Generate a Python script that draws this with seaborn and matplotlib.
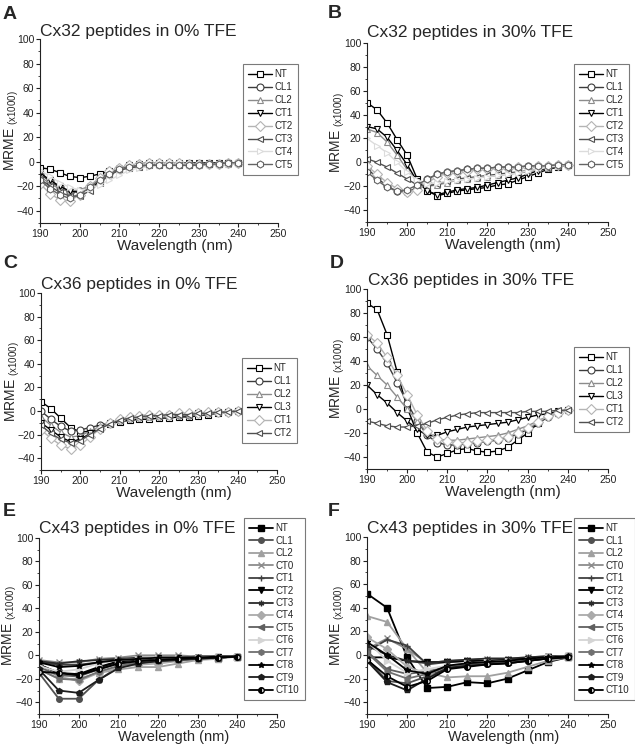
import numpy as np
import matplotlib
matplotlib.use('Agg')
import matplotlib.pyplot as plt
from matplotlib.ticker import MultipleLocator
import seaborn as sns

# wavelengths (nm)
wl_fine = [190 + 2.5 * i for i in range(21)]
wl_coarse = [190 + 5 * i for i in range(11)]

# Cx32, 0% TFE
cx32_0 = {
    'NT':  [-5, -6, -9, -12, -13, -12, -10, -8, -6, -4, -3, -2, -2, -2, -2, -2, -2, -2, -2, -1, -1],
    'CL1': [-10, -16, -21, -25, -24, -20, -14, -9, -5, -3, -2, -1, -1, -1, -2, -2, -2, -2, -2, -1, -1],
    'CL2': [-12, -18, -22, -24, -23, -20, -15, -10, -7, -5, -4, -3, -3, -3, -3, -3, -3, -2, -2, -2, -1],
    'CT1': [-9, -15, -20, -24, -25, -22, -16, -10, -6, -3, -2, -1, -1, -1, -1, -1, -1, -1, -1, -1, -1],
    'CT2': [-18, -26, -31, -32, -27, -20, -13, -8, -5, -3, -2, -1, -1, -1, -1, -2, -2, -2, -2, -1, -1],
    'CT3': [-14, -20, -25, -28, -28, -24, -17, -11, -7, -5, -4, -3, -3, -3, -3, -3, -2, -2, -2, -1, -1],
    'CT4': [-7, -12, -17, -21, -23, -22, -19, -15, -11, -7, -5, -4, -3, -3, -3, -3, -3, -2, -2, -2, -1],
    'CT5': [-15, -22, -27, -30, -27, -21, -15, -10, -6, -4, -3, -3, -3, -3, -3, -3, -3, -2, -2, -1, -1],
}

# Cx32, 30% TFE
cx32_30 = {
    'NT':  [50, 44, 33, 19, 6, -14, -24, -28, -26, -24, -23, -22, -21, -19, -18, -15, -12, -9, -6, -4, -2],
    'CL1': [-5, -13, -20, -24, -25, -21, -14, -10, -8, -7, -6, -5, -5, -4, -4, -4, -3, -3, -3, -2, -2],
    'CL2': [28, 25, 17, 6, -6, -16, -20, -19, -17, -15, -14, -13, -12, -11, -10, -9, -8, -6, -5, -3, -2],
    'CT1': [30, 28, 21, 10, -2, -16, -24, -27, -25, -23, -22, -21, -19, -17, -15, -13, -10, -7, -5, -3, -2],
    'CT2': [-3, -10, -17, -22, -25, -23, -17, -12, -9, -8, -7, -6, -6, -5, -5, -4, -4, -3, -3, -2, -2],
    'CT3': [3, 0, -4, -9, -14, -19, -20, -18, -16, -14, -13, -12, -11, -10, -9, -8, -7, -6, -5, -3, -2],
    'CT4': [20, 14, 8, 0, -8, -15, -18, -17, -16, -15, -14, -13, -12, -11, -10, -9, -7, -6, -4, -3, -2],
    'CT5': [-8, -15, -21, -24, -23, -19, -14, -10, -8, -7, -6, -5, -5, -4, -4, -4, -3, -3, -3, -2, -2],
}

# Cx36, 0% TFE
cx36_0 = {
    'NT':  [8, 2, -6, -14, -18, -17, -14, -11, -9, -8, -7, -7, -6, -6, -5, -5, -4, -3, -2, -1, 0],
    'CL1': [0, -7, -13, -17, -16, -14, -12, -10, -8, -6, -5, -4, -4, -3, -3, -3, -2, -2, -1, -1, 0],
    'CL2': [-5, -12, -18, -22, -21, -17, -13, -10, -8, -6, -5, -5, -4, -4, -3, -3, -2, -2, -1, -1, 0],
    'CL3': [-10, -16, -22, -26, -24, -19, -14, -10, -8, -6, -5, -4, -4, -4, -3, -3, -2, -2, -1, -1, 0],
    'CT1': [-16, -23, -29, -32, -29, -22, -15, -10, -7, -5, -4, -3, -3, -3, -2, -2, -2, -1, -1, -1, 0],
    'CT2': [-12, -19, -24, -27, -25, -20, -15, -11, -8, -6, -5, -4, -4, -3, -3, -3, -2, -2, -1, -1, 0],
}

# Cx36, 30% TFE
cx36_30 = {
    'NT':  [88, 83, 62, 31, 1, -20, -36, -40, -37, -34, -33, -35, -36, -35, -32, -26, -20, -12, -6, -3, -1],
    'CL1': [60, 50, 38, 22, 5, -10, -22, -28, -30, -30, -29, -28, -27, -26, -24, -21, -17, -12, -7, -3, -1],
    'CL2': [36, 28, 20, 10, 0, -10, -20, -25, -26, -26, -25, -24, -23, -22, -20, -17, -14, -10, -6, -3, -1],
    'CL3': [20, 12, 5, -3, -10, -17, -22, -22, -19, -17, -15, -14, -13, -12, -11, -9, -7, -5, -4, -2, -1],
    'CT1': [62, 55, 43, 28, 12, -5, -18, -25, -27, -28, -28, -27, -26, -25, -23, -20, -16, -11, -6, -3, -1],
    'CT2': [-10, -12, -14, -15, -15, -14, -12, -9, -7, -5, -4, -3, -3, -3, -3, -3, -2, -2, -2, -1, -1],
}

# Cx43, 0% TFE
cx43_0 = {
    'NT':   [-8, -15, -17, -11, -6, -4, -3, -3, -2, -2, -1],
    'CL1':  [-15, -37, -37, -21, -10, -6, -5, -4, -3, -2, -1],
    'CL2':  [-12, -20, -20, -15, -12, -10, -10, -7, -4, -3, -1],
    'CT0':  [-4, -6, -6, -3, -2, 0, 0, 0, -1, -1, -1],
    'CT1':  [-6, -8, -8, -6, -4, -3, -2, -2, -1, -1, -1],
    'CT2':  [-8, -15, -16, -10, -5, -3, -2, -2, -2, -1, -1],
    'CT3':  [-5, -7, -5, -4, -3, -2, -2, -2, -1, -1, -1],
    'CT4':  [-10, -18, -22, -15, -10, -8, -7, -5, -3, -2, -1],
    'CT5':  [-10, -17, -18, -12, -7, -5, -4, -3, -2, -2, -1],
    'CT6':  [-9, -14, -12, -7, -4, -3, -2, -2, -2, -1, -1],
    'CT7':  [-12, -20, -21, -14, -9, -6, -5, -4, -3, -2, -1],
    'CT8':  [-6, -10, -9, -6, -4, -3, -2, -2, -2, -1, -1],
    'CT9':  [-12, -30, -32, -21, -11, -7, -5, -4, -3, -2, -1],
    'CT10': [-14, -15, -17, -12, -7, -5, -4, -3, -2, -2, -1],
}

# Cx43, 30% TFE
cx43_30 = {
    'NT':   [52, 40, -2, -28, -27, -23, -24, -20, -13, -6, -2],
    'CL1':  [-3, -22, -24, -18, -11, -9, -8, -7, -5, -3, -2],
    'CL2':  [33, 28, 5, -15, -19, -18, -18, -15, -10, -5, -2],
    'CT0':  [5, 14, 5, -7, -5, -4, -3, -3, -2, -1, -1],
    'CT1':  [3, 13, 8, -8, -6, -5, -5, -4, -3, -2, -1],
    'CT2':  [-2, -2, -5, -6, -6, -5, -5, -4, -3, -2, -1],
    'CT3':  [8, 0, -5, -7, -5, -4, -3, -3, -2, -1, -1],
    'CT4':  [15, 5, -10, -16, -10, -8, -7, -6, -4, -2, -1],
    'CT5':  [3, -12, -16, -14, -10, -8, -7, -6, -4, -3, -1],
    'CT6':  [12, -5, -15, -12, -9, -7, -6, -5, -4, -2, -1],
    'CT7':  [2, -14, -20, -16, -10, -8, -7, -6, -4, -3, -1],
    'CT8':  [11, 0, -13, -16, -9, -7, -6, -5, -3, -2, -1],
    'CT9':  [-5, -23, -30, -20, -11, -9, -8, -7, -5, -3, -2],
    'CT10': [-4, -18, -27, -22, -12, -10, -8, -7, -5, -3, -2],
}

titles = ['Cx32 peptides in 0% TFE', 'Cx32 peptides in 30% TFE',
          'Cx36 peptides in 0% TFE', 'Cx36 peptides in 30% TFE',
          'Cx43 peptides in 0% TFE', 'Cx43 peptides in 30% TFE']
letters = ['A', 'B', 'C', 'D', 'E', 'F']

# line styles: (colour, marker)
style_32 = {
    'NT': ('#000000', 's'), 'CL1': ('#3c3c3c', 'o'), 'CL2': ('#8c8c8c', '^'),
    'CT1': ('#000000', 'v'), 'CT2': ('#b4b4b4', 'D'), 'CT3': ('#505050', '<'),
    'CT4': ('#dcdcdc', '>'), 'CT5': ('#646464', 'h'),
}
style_36 = {
    'NT': ('#000000', 's'), 'CL1': ('#3c3c3c', 'o'), 'CL2': ('#8c8c8c', '^'),
    'CL3': ('#000000', 'v'), 'CT1': ('#b4b4b4', 'D'), 'CT2': ('#505050', '<'),
}
style_43 = {
    'NT': ('#000000', 's'), 'CL1': ('#505050', 'o'), 'CL2': ('#a0a0a0', '^'),
    'CT0': ('#8c8c8c', 'x'), 'CT1': ('#404040', '+'), 'CT2': ('#000000', 'v'),
    'CT3': ('#2a2a2a', (6, 2, 0)), 'CT4': ('#aaaaaa', 'D'), 'CT5': ('#606060', '<'),
    'CT6': ('#d4d4d4', '>'), 'CT7': ('#707070', 'h'), 'CT8': ('#000000', '*'),
    'CT9': ('#1e1e1e', 'p'), 'CT10': ('#000000', 'o'),
}

sns.set_style('ticks')
plt.rcParams['font.family'] = ['Liberation Sans', 'DejaVu Sans']
plt.rcParams['mathtext.fontset'] = 'custom'
plt.rcParams['mathtext.rm'] = 'Liberation Sans'

W, H = 635, 750
fig = plt.figure(figsize=(W / 100, H / 100), dpi=100)

# pixel boxes: left, top, right, bottom
boxes = [(40, 39, 278, 223), (367, 43, 608, 222),
         (41, 293, 277, 470), (367, 289, 608, 469),
         (39, 538, 277, 714), (367, 537, 608, 714)]
title_pos = [(40, 36), (367, 37), (41, 289), (368, 285), (39, 533), (367, 533)]
letter_pos = [(3, 6), (328, 5), (3, 255), (330, 255), (3, 503), (328, 503)]
legend_pos = [(243, 64), (574, 64), (242, 358), (574, 347), (244, 518), (574, 518)]
ylabel_off = [-19, -20, -19, -20, -20, -20]

panels = [(cx32_0, wl_fine, style_32, False), (cx32_30, wl_fine, style_32, False),
          (cx36_0, wl_fine, style_36, False), (cx36_30, wl_fine, style_36, False),
          (cx43_0, wl_coarse, style_43, True), (cx43_30, wl_coarse, style_43, True)]

for i, (data, wl, style, filled) in enumerate(panels):
    l, t, r, b = boxes[i]
    ax = fig.add_axes([l / W, 1 - b / H, (r - l) / W, (b - t) / H])
    for name, vals in data.items():
        color, marker = style[name]
        kw = dict(color=color, marker=marker, markeredgecolor=color)
        if filled:
            kw.update(linewidth=1.3, markersize=4, markeredgewidth=1.0,
                      markerfacecolor=color)
            if name == 'CT10':
                kw.update(fillstyle='left', markerfacecoloralt='white')
        else:
            kw.update(linewidth=1.0, markersize=5, markeredgewidth=0.8,
                      markerfacecolor='white')
        sns.lineplot(x=wl, y=vals, ax=ax, label=name, **kw)

    ax.set_xlim(190, 250)
    ax.set_ylim(-50, 100)
    ax.xaxis.set_major_locator(MultipleLocator(10))
    ax.xaxis.set_minor_locator(MultipleLocator(5))
    ax.yaxis.set_minor_locator(MultipleLocator(10))
    ax.set_yticks([-40, -20, 0, 20, 40, 60, 80, 100])
    ax.tick_params(which='major', direction='out', length=2.8, width=0.8,
                   labelsize=7.5, pad=1.2, colors='#222222')
    ax.tick_params(which='minor', direction='out', length=1.6, width=0.6)
    sns.despine(ax=ax)
    for s in ('left', 'bottom'):
        ax.spines[s].set_linewidth(0.8)
        ax.spines[s].set_color('#222222')

    ax.set_xlabel('Wavelength (nm)', fontsize=11 if not filled else 10.5, labelpad=0)
    ax.xaxis.label.set_x(0.565)
    ax.set_ylabel(r'MRME $_{\mathregular{(x1000)}}$', fontsize=10)
    ax.yaxis.set_label_coords(ylabel_off[i] / (r - l), 0.5)

    leg = ax.legend(loc='upper left', bbox_to_anchor=(legend_pos[i][0] / W, 1 - legend_pos[i][1] / H),
                    bbox_transform=fig.transFigure, frameon=True, fancybox=False,
                    edgecolor='#7a7a7a', framealpha=1, fontsize=7,
                    handlelength=2.4, handletextpad=0.3,
                    labelspacing=0.25 if filled else 0.3,
                    borderpad=0.55, borderaxespad=0)
    leg.get_frame().set_linewidth(0.8)

    fig.text(title_pos[i][0] / W, 1 - title_pos[i][1] / H, titles[i],
             fontsize=12.5, ha='left', va='baseline')
    fig.text(letter_pos[i][0] / W, 1 - letter_pos[i][1] / H, letters[i],
             fontsize=14, fontweight='bold', ha='left', va='top')

fig.savefig('out.png', dpi=100)
